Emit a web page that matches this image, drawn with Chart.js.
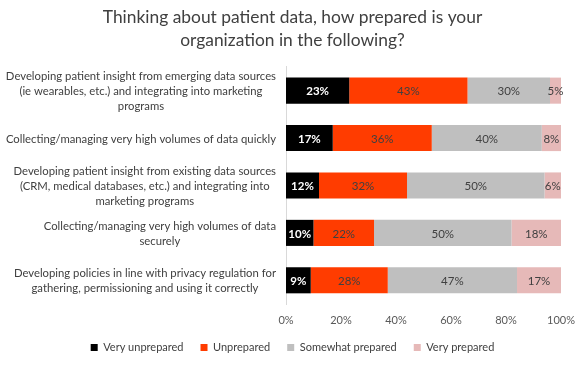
<!DOCTYPE html>
<html>
<head>
<meta charset="utf-8">
<script src="https://cdn.jsdelivr.net/npm/chart.js@4"></script>
<style>
  body { margin: 0; background: #fff; }
  #wrap { width: 585px; height: 373px; }
</style>
</head>
<body>
<div id="wrap"><canvas id="prep-chart"></canvas></div>
<script>
// Survey rows (multi-line labels as drawn in the reference)
const categories = [
  ['Developing patient insight from emerging data sources', '(ie wearables, etc.) and integrating into marketing', 'programs'],
  ['Collecting/managing very high volumes of data quickly'],
  ['Developing patient insight from existing data sources', '(CRM, medical databases, etc.) and integrating into', 'marketing programs'],
  ['Collecting/managing very high volumes of data', 'securely'],
  ['Developing policies in line with privacy regulation for', 'gathering, permissioning and using it correctly'],
];
const veryUnprepared = [23, 17, 12, 10, 9];
const unprepared = [43, 36, 32, 22, 28];
const somewhatPrepared = [30, 40, 50, 50, 47];
const veryPrepared = [5, 8, 6, 18, 17];
const xTicks = [0, 20, 40, 60, 80, 100];

const FONT = 'Lato, "Open Sans", sans-serif';

// Labels inside each bar segment
const segmentLabels = {
  id: 'segmentLabels',
  afterDatasetsDraw(chart) {
    const ctx = chart.ctx;
    ctx.save();
    ctx.textAlign = 'center';
    ctx.textBaseline = 'middle';
    chart.data.datasets.forEach((ds, di) => {
      const meta = chart.getDatasetMeta(di);
      meta.data.forEach((bar, i) => {
        const right = Math.min(bar.x, chart.chartArea.right);
        const cx = (right + bar.base) / 2;
        ctx.fillStyle = di === 0 ? '#ffffff' : '#404040';
        ctx.font = (di === 0 ? 'bold ' : '') + '11.5px ' + FONT;
        ctx.fillText(ds.data[i] + '%', cx, bar.y + 1);
      });
    });
    ctx.restore();
  }
};

// Category labels: each block right-aligned against the axis, lines centred within it
const rowLabels = {
  id: 'rowLabels',
  afterDraw(chart) {
    const ctx = chart.ctx;
    const yScale = chart.scales.y;
    const rightEdge = chart.chartArea.left - 10;
    const lineH = 15;
    ctx.save();
    ctx.font = '11.3px ' + FONT;
    ctx.fillStyle = '#404040';
    ctx.textAlign = 'center';
    ctx.textBaseline = 'middle';
    categories.forEach((lines, i) => {
      const maxW = Math.max(...lines.map(l => ctx.measureText(l).width));
      const cx = rightEdge - maxW / 2;
      const cy = yScale.getPixelForValue(i) + 1;
      const top = cy - (lines.length - 1) * lineH / 2;
      lines.forEach((l, k) => ctx.fillText(l, cx, top + k * lineH));
    });
    ctx.restore();
  }
};

function makeSet(label, data, color) {
  return {
    label: label,
    data: data,
    backgroundColor: color,
    borderWidth: 0,
    barPercentage: 0.55,
    categoryPercentage: 1,
  };
}

new Chart(document.getElementById('prep-chart'), {
  type: 'bar',
  data: {
    labels: categories.map(c => c.join(' ')),
    datasets: [
      makeSet('Very unprepared', veryUnprepared, '#000000'),
      makeSet('Unprepared', unprepared, '#ff3c00'),
      makeSet('Somewhat prepared', somewhatPrepared, '#bfbfbf'),
      makeSet('Very prepared', veryPrepared, '#e6b9b8'),
    ],
  },
  options: {
    indexAxis: 'y',
    responsive: true,
    maintainAspectRatio: false,
    animation: false,
    layout: { padding: { left: 0, right: 0, top: 0, bottom: 10 } },
    scales: {
      x: {
        stacked: true,
        min: 0,
        max: 100,
        afterBuildTicks(scale) {
          scale.ticks = xTicks.map(v => ({ value: v }));
        },
        afterFit(scale) { scale.height = 21; },
        grid: { display: false, drawTicks: false },
        border: { display: false },
        ticks: {
          callback: v => v + '%',
          color: '#595959',
          font: { family: FONT, size: 11 },
          padding: 10,
          maxRotation: 0,
        },
      },
      y: {
        stacked: true,
        afterFit(scale) { scale.width = 286; },
        grid: { display: false },
        border: { display: true, color: '#d9d9d9' },
        ticks: { display: false },
      },
      // empty strip on the right so the plot ends at 100% like the original
      yRight: {
        type: 'category',
        position: 'right',
        afterFit(scale) { scale.width = 23; },
        grid: { display: false },
        border: { display: false },
        ticks: { display: false },
      },
    },
    plugins: {
      title: {
        display: true,
        text: ['Thinking about patient data, how prepared is your', 'organization in the following?'],
        color: '#404040',
        font: { family: FONT, size: 17.4, weight: 'normal', lineHeight: 1.32 },
        padding: { top: 5.5, bottom: 15.5 },
      },
      legend: {
        position: 'bottom',
        labels: {
          boxWidth: 7,
          boxHeight: 7,
          color: '#404040',
          font: { family: FONT, size: 11 },
          padding: 17,
        },
      },
      tooltip: { enabled: false },
    },
  },
  plugins: [segmentLabels, rowLabels],
});
</script>
</body>
</html>
